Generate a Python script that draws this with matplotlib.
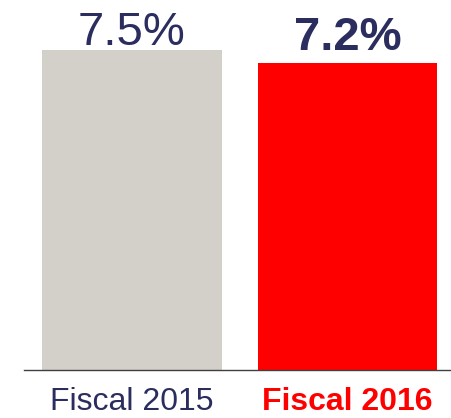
import matplotlib
matplotlib.use("Agg")
import matplotlib.pyplot as plt

plt.rcParams["font.family"] = ["Liberation Sans", "DejaVu Sans"]

# Chart data
categories = ["Fiscal 2015", "Fiscal 2016"]
values = [7.5, 7.2]
value_labels = ["7.5%", "7.2%"]
bar_colors = ["#d3d0ca", "#ff0000"]
label_colors = ["#2b2d5e", "#ff0000"]
label_weights = ["normal", "bold"]

navy = "#2b2d5e"

fig = plt.figure(figsize=(4.52, 4.18), dpi=100)
# axes spans from the baseline (y=370px) to top of figure
ax = fig.add_axes([24 / 452, 1 - 370 / 418, 428 / 452, 370 / 418])

x = list(range(len(categories)))
ax.bar(x, values, width=0.835, color=bar_colors, zorder=2)

ax.set_xlim(-0.501, 1.485)
ax.set_ylim(0, 370 / (320 / 7.5))

for xi, v, lab, w in zip(x, values, value_labels, label_weights):
    ax.annotate(lab, (xi, v), xytext=(0, 3.6 if w == "normal" else 9.4),
                textcoords="offset points", ha="center", va="baseline",
                fontsize=34, color=navy, fontweight=w)

ax.set_xticks(x)
ax.set_xticklabels(categories, fontsize=23)
for tl, c, w in zip(ax.get_xticklabels(), label_colors, label_weights):
    tl.set_color(c)
    tl.set_fontweight(w)
ax.tick_params(axis="x", length=0, pad=12)
ax.set_yticks([])

for side in ["top", "right", "left"]:
    ax.spines[side].set_visible(False)
ax.spines["bottom"].set_color("#404040")
ax.spines["bottom"].set_linewidth(1.0)
ax.spines["bottom"].set_zorder(3)

fig.savefig("out.png", dpi=100)
